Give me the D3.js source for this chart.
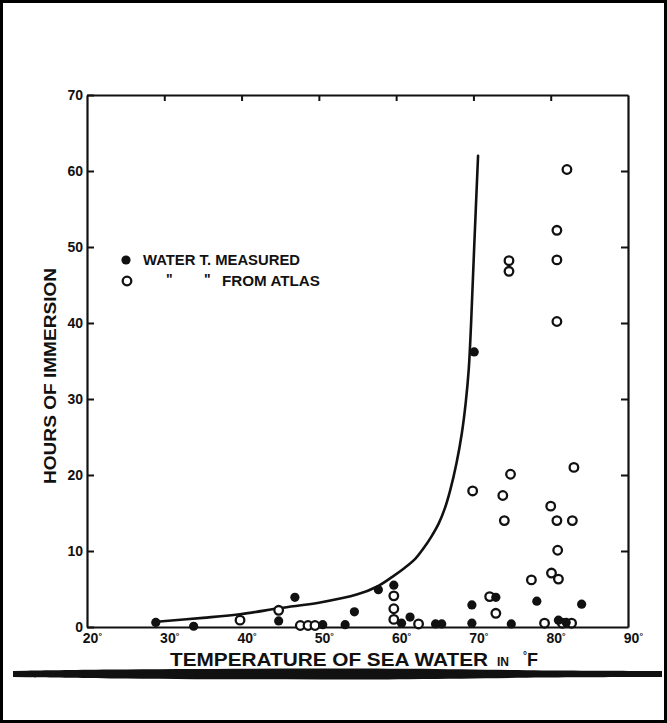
<!DOCTYPE html>
<html>
<head>
<meta charset="utf-8">
<script src="https://cdn.jsdelivr.net/npm/d3@7"></script>
<style>
  body { margin: 0; background: #fff; }
  svg { display: block; }
  text { font-family: "Liberation Sans", Arial, sans-serif; font-weight: bold; fill: #111; }
</style>
</head>
<body>
<svg id="chart" width="667" height="723"></svg>
<script>
// tick values
var xTicks = [20, 30, 40, 50, 60, 70, 80, 90];
var yTicks = [0, 10, 20, 30, 40, 50, 60, 70];

// water temperature measured (filled dots): [deg F, hours]
var measured = [
  [28.9, 0.6], [33.8, 0.1], [44.8, 0.8], [46.9, 3.9], [50.5, 0.3], [53.4, 0.3],
  [54.6, 2.0], [57.7, 4.9], [59.7, 5.5], [60.7, 0.5], [61.8, 1.3], [65.1, 0.4],
  [65.9, 0.4], [70.1, 36.2], [69.8, 2.9], [69.8, 0.5], [72.9, 3.9], [74.9, 0.4],
  [78.2, 3.4], [81.0, 0.9], [82.0, 0.6], [84.0, 3.0]
];

// water temperature from atlas (open circles)
var atlas = [
  [39.8, 0.9], [44.8, 2.2], [47.6, 0.2], [48.6, 0.2], [49.5, 0.2], [59.7, 4.1],
  [59.7, 2.4], [59.7, 1.0], [62.9, 0.4], [69.9, 17.9], [72.1, 4.0], [72.9, 1.8],
  [73.8, 17.3], [74.0, 14.0], [74.6, 48.2], [74.6, 46.8], [74.8, 20.1], [77.5, 6.2],
  [79.2, 0.5], [80.0, 15.9], [80.1, 7.1], [80.8, 52.2], [80.8, 48.3], [80.8, 40.2],
  [80.8, 14.0], [80.9, 10.1], [81.0, 6.3], [81.5, 0.5], [82.1, 60.2], [82.7, 0.5],
  [82.8, 14.0], [83.0, 21.0]
];

// survival curve drawn by hand
var curve = [
  [29, 0.7], [35, 1.2], [40, 1.7], [45, 2.5], [50, 3.2], [55, 4.3], [57.5, 5.3],
  [59.5, 6.6], [61, 7.7], [62.5, 9.0], [63.5, 10.3], [64.5, 11.8], [65.5, 13.6],
  [66.3, 15.6], [67, 18], [67.8, 21.5], [68.5, 25.5], [69, 29.5], [69.4, 34],
  [69.7, 40], [70.1, 50], [70.6, 62]
];

var svg = d3.select("#chart");
var W = 667, H = 723;
var margin = {top: 95, right: 39, bottom: 96, left: 87};
var font = "'Liberation Sans', Arial, sans-serif";

var x = d3.scaleLinear()
  .domain([20, 90])
  .range([margin.left, W - margin.right]);

var y = d3.scaleLinear()
  .domain([0, 70])
  .range([H - margin.bottom, margin.top]);

// outer frame
svg.append("rect")
  .attr("x", 1.5).attr("y", 1.5)
  .attr("width", W - 3).attr("height", H - 3)
  .attr("fill", "none")
  .attr("stroke", "#000")
  .attr("stroke-width", 3);

// axes
var axisStyle = function(g) {
  g.attr("font-size", 14).attr("font-family", font).attr("font-weight", "bold");
  g.selectAll(".domain").attr("stroke", "#111").attr("stroke-width", 2.2);
  g.selectAll(".tick line").attr("stroke", "#111").attr("stroke-width", 2);
  g.selectAll(".tick text").attr("fill", "#111");
};

svg.append("g")
  .attr("transform", `translate(${margin.left},0)`)
  .call(d3.axisLeft(y).tickValues(yTicks).tickSize(-7).tickSizeOuter(0).tickPadding(4))
  .call(axisStyle);

svg.append("g")
  .attr("transform", `translate(${W - margin.right},0)`)
  .call(d3.axisRight(y).tickValues(yTicks.slice(1, -1)).tickSize(-7).tickSizeOuter(0).tickFormat(""))
  .call(axisStyle);

svg.append("g")
  .attr("transform", `translate(0,${margin.top})`)
  .call(d3.axisTop(x).tickValues(xTicks.slice(1, -1)).tickSize(-6).tickSizeOuter(0).tickFormat(""))
  .call(axisStyle);

var xAxis = svg.append("g")
  .attr("transform", `translate(0,${H - margin.bottom})`)
  .call(d3.axisBottom(x).tickValues(xTicks).tickSize(0).tickSizeOuter(0).tickPadding(6).tickFormat(d => d))
  .call(axisStyle);

xAxis.selectAll(".tick text")
  .attr("dx", "0.35em")
  .append("tspan")
  .attr("dy", "-0.4em")
  .attr("font-size", 9)
  .text("°");

// curve
svg.append("path")
  .datum(curve)
  .attr("fill", "none")
  .attr("stroke", "#111")
  .attr("stroke-width", 2.6)
  .attr("stroke-linecap", "round")
  .attr("d", d3.line()
    .x(d => x(d[0]))
    .y(d => y(d[1]))
    .curve(d3.curveCatmullRom));

// points
svg.append("g").selectAll("circle")
  .data(atlas)
  .join("circle")
  .attr("cx", d => x(d[0]))
  .attr("cy", d => y(d[1]))
  .attr("r", 4.3)
  .attr("fill", "#fff")
  .attr("stroke", "#111")
  .attr("stroke-width", 2.3);

svg.append("g").selectAll("circle")
  .data(measured)
  .join("circle")
  .attr("cx", d => x(d[0]))
  .attr("cy", d => y(d[1]))
  .attr("r", 4.6)
  .attr("fill", "#111");

// legend
var legend = svg.append("g").attr("transform", "translate(126,260)");
legend.append("circle").attr("cx", 0).attr("cy", 0).attr("r", 4.6).attr("fill", "#111");
legend.append("text").attr("x", 17).attr("y", 5)
  .style("font-size", "14px").attr("textLength", 157).attr("lengthAdjust", "spacingAndGlyphs")
  .text("WATER  T. MEASURED");
legend.append("circle").attr("cx", 1).attr("cy", 21).attr("r", 4.3)
  .attr("fill", "#fff").attr("stroke", "#111").attr("stroke-width", 2.3);
legend.append("text").attr("x", 40).attr("y", 24).style("font-size", "14px").text("\"");
legend.append("text").attr("x", 78).attr("y", 24).style("font-size", "14px").text("\"");
legend.append("text").attr("x", 96).attr("y", 26)
  .style("font-size", "14px").attr("textLength", 98).attr("lengthAdjust", "spacingAndGlyphs")
  .text("FROM ATLAS");

// axis titles
svg.append("text")
  .attr("transform", "translate(56,376) rotate(-90)")
  .attr("text-anchor", "middle")
  .style("font-size", "16px")
  .attr("textLength", 216).attr("lengthAdjust", "spacingAndGlyphs")
  .text("HOURS OF IMMERSION");

var xt = svg.append("text")
  .attr("x", 170).attr("y", 666)
  .style("font-size", "18px");
xt.append("tspan").attr("textLength", 318).attr("lengthAdjust", "spacingAndGlyphs")
  .text("TEMPERATURE OF SEA WATER");
xt.append("tspan").attr("dx", 9).style("font-size", "12px").text("IN");
xt.append("tspan").attr("dx", 14).attr("dy", -7).style("font-size", "10px").text("°");
xt.append("tspan").attr("dy", 7).text("F");

// heavy rule under the title
var ruleY = 674;
svg.append("path")
  .attr("d", d3.area().x(d => d[0]).y0(d => ruleY - d[1]).y1(d => ruleY + d[1])
    .curve(d3.curveBasis)([[13, 3], [100, 4.5], [250, 5.5], [420, 5.5], [520, 3.5], [662, 3]]))
  .attr("fill", "#111");
</script>
</body>
</html>
